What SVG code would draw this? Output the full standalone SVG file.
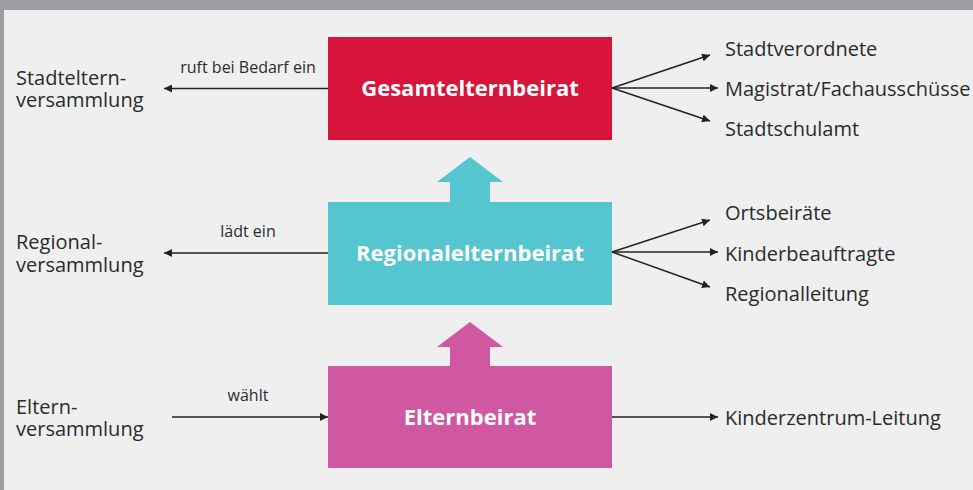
<svg xmlns="http://www.w3.org/2000/svg" width="973" height="490" viewBox="0 0 973 490">
<defs>
<style>
.t{font-family:"Open Sans","Liberation Sans",sans-serif;font-size:20px;fill:#2b2b2b}
.s{font-family:"Open Sans","Liberation Sans",sans-serif;font-size:16px;fill:#2b2b2b;text-anchor:middle}
.b{font-family:"Open Sans","Liberation Sans",sans-serif;font-size:22px;font-weight:bold;fill:#fff;text-anchor:middle}
.c{stroke:#222;stroke-width:1.5;fill:none;marker-end:url(#ah)}
</style>
<marker id="ah" viewBox="0 0 10 10" refX="10" refY="5" markerWidth="8" markerHeight="8" markerUnits="userSpaceOnUse" orient="auto">
<path d="M0,0 L10,5 L0,10 Z" fill="#222"/>
</marker>
</defs>
<rect width="973" height="490" fill="#9d9ea2"/>
<rect x="4" y="10" width="969" height="480" fill="#efefef"/>
<g id="up-arrows">
<polygon points="470,157 503,182 490,182 490,202 450,202 450,182 437,182" fill="#55c5d0"/>
<polygon points="470,322 503,347 490,347 490,366 450,366 450,347 437,347" fill="#d058a2"/>
</g>
<g id="gesamtelternbeirat">
<rect x="328" y="37" width="284" height="103" fill="#d7153a"/>
<text class="b" x="470" y="96">Gesamtelternbeirat</text>
</g>
<g id="regionalelternbeirat">
<rect x="328" y="202" width="284" height="103" fill="#55c5d0"/>
<text class="b" x="470" y="261">Regionalelternbeirat</text>
</g>
<g id="elternbeirat">
<rect x="328" y="366" width="284" height="102" fill="#d058a2"/>
<text class="b" x="470" y="425">Elternbeirat</text>
</g>
<g id="stadtelternversammlung"><text class="t" x="16" y="85">Stadteltern-<tspan x="16" dy="22">versammlung</tspan></text></g>
<g id="regionalversammlung"><text class="t" x="16" y="249">Regional-<tspan x="16" dy="23">versammlung</tspan></text></g>
<g id="elternversammlung"><text class="t" x="16" y="414">Eltern-<tspan x="16" dy="22">versammlung</tspan></text></g>
<g id="stadtverordnete"><text class="t" x="725" y="56">Stadtverordnete</text></g>
<g id="magistrat"><text class="t" x="725" y="96">Magistrat/Fachausschüsse</text></g>
<g id="stadtschulamt"><text class="t" x="725" y="136">Stadtschulamt</text></g>
<g id="ortsbeiraete"><text class="t" x="725" y="220">Ortsbeiräte</text></g>
<g id="kinderbeauftragte"><text class="t" x="725" y="261">Kinderbeauftragte</text></g>
<g id="regionalleitung"><text class="t" x="725" y="301">Regionalleitung</text></g>
<g id="kinderzentrum"><text class="t" x="725" y="425">Kinderzentrum-Leitung</text></g>
<g id="connectors">
<line class="c" x1="328" y1="88.5" x2="164" y2="88.5"/>
<text class="s" x="248" y="73">ruft bei Bedarf ein</text>
<line class="c" x1="328" y1="253" x2="164" y2="253"/>
<text class="s" x="248" y="237">lädt ein</text>
<line class="c" x1="172" y1="417" x2="328" y2="417"/>
<text class="s" x="248" y="401">wählt</text>
<line class="c" x1="612" y1="88" x2="710" y2="55"/>
<line class="c" x1="612" y1="88" x2="718" y2="88"/>
<line class="c" x1="612" y1="88" x2="710" y2="121"/>
<line class="c" x1="612" y1="252" x2="710" y2="220"/>
<line class="c" x1="612" y1="252" x2="718" y2="252"/>
<line class="c" x1="612" y1="252" x2="710" y2="287"/>
<line class="c" x1="612" y1="417" x2="718" y2="417"/>
</g>
</svg>
